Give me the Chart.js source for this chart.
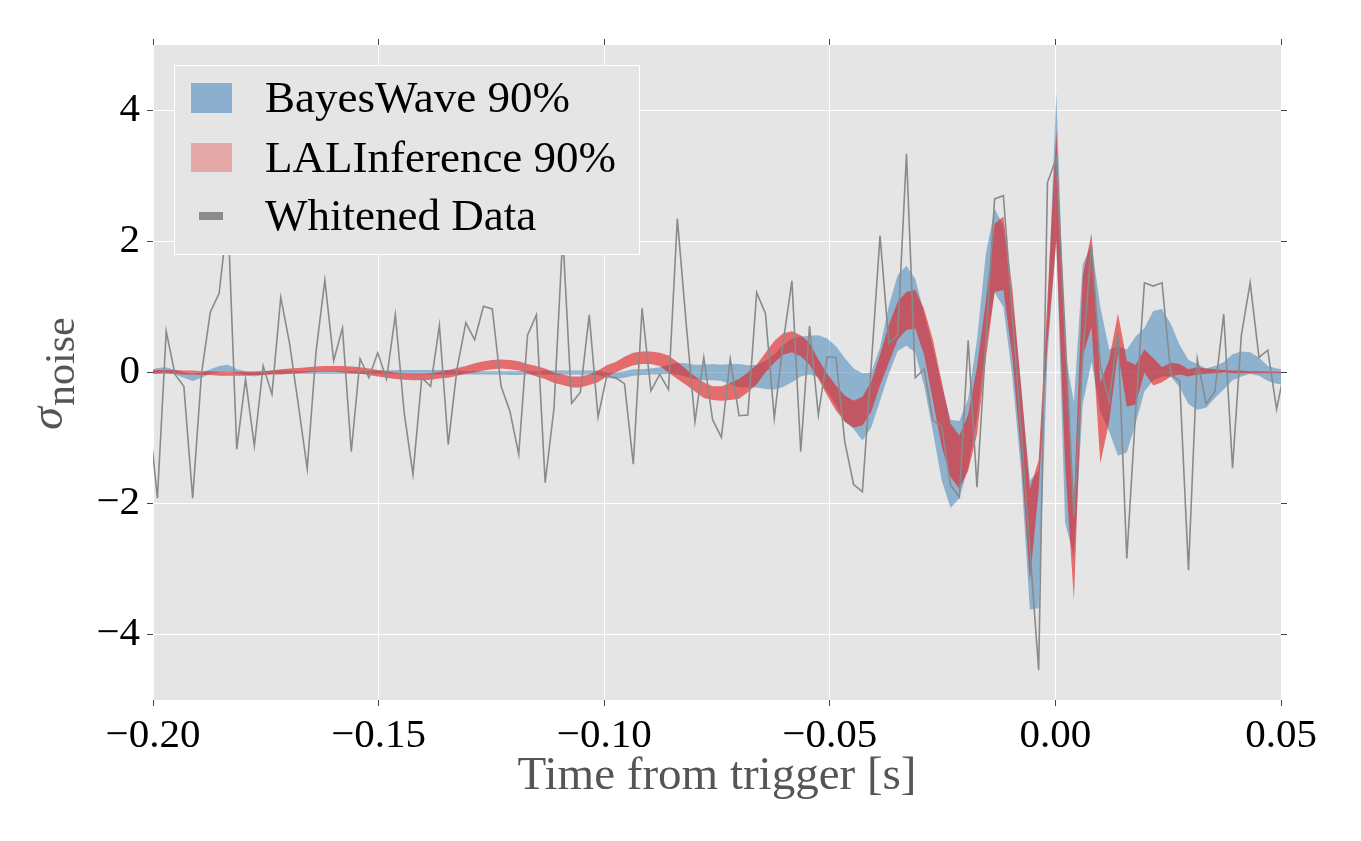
<!DOCTYPE html>
<html>
<head>
<meta charset="utf-8">
<title>Whitened data vs reconstructions</title>
<script src="https://cdn.jsdelivr.net/npm/chart.js@4.4.0/dist/chart.umd.min.js"></script>
<style>
  html, body { margin: 0; padding: 0; background: #fff; }
  #wrap { width: 1361px; height: 841px; }
</style>
</head>
<body>
<div id="wrap"><canvas id="chart" width="1361" height="841"></canvas></div>
<script>
// sample clock: 512 Hz, samples sit half a sample off the trigger time
const sampleRate = 512;
const firstSample = -0.2 - 0.5 / sampleRate;

// whitened strain, in units of noise sigma
const whitened = [
  -0.6, -1.92, 0.63, -0.03, -0.21, -1.92, -0.02, 0.92, 1.21, 2.4,
  -1.17, -0.10, -1.12, 0.10, -0.33, 1.15, 0.44, -0.50, -1.47, 0.32,
  1.41, 0.18, 0.68, -1.21, 0.21, -0.08, 0.30, -0.10, 0.88, -0.61,
  -1.56, -0.08, -0.21, 0.72, -1.10, 0.06, 0.76, 0.50, 1.01, 0.97,
  -0.21, -0.59, -1.25, 0.57, 0.88, -1.68, -0.55, 2.1, -0.47, -0.30,
  0.88, -0.68, -0.05, -0.08, -0.17, -1.40, 0.98, -0.28, -0.03, -0.26,
  2.35, 0.75, -0.75, 0.23, -0.72, -0.99, 0.21, -0.66, -0.65, 1.22,
  0.90, -0.70, 0.45, 1.40, -1.21, 0.71, -0.65, 0.24, 0.23, -1.06,
  -1.71, -1.82, 0.1, 2.09, 0.45, 0.57, 3.34, -0.08, 0.05, -0.73,
  -0.82, -1.72, -1.90, 0.49, -1.75, 0.45, 2.65, 2.70, 0.9, -0.88,
  -2.7, -4.54, 2.90, 3.27, 0.6, -2.2, 0.25, 1.95, 0.10, -0.44,
  0.60, -2.84, -0.6, 1.37, 1.32, 1.37, -0.03, -0.13, -3.02, 0.21,
  -0.48, -0.29, 0.89, -1.46, 0.57, 1.37, 0.23, 0.34, -0.56, 0.1
];

// BayesWave 90% band
const bwUpper = [
  0.03, 0.07, 0.08, 0.04, 0.0, -0.02, 0.0, 0.05, 0.10, 0.12,
  0.05, 0.02, 0.0, 0.02, 0.03, 0.03, 0.03, 0.02, 0.02, 0.02,
  0.02, 0.02, 0.02, 0.02, 0.02, 0.02, 0.03, 0.03, 0.04, 0.04,
  0.04, 0.04, 0.04, 0.04, 0.04, 0.03, 0.02, 0.02, 0.02, 0.02,
  0.02, 0.02, 0.02, 0.02, 0.02, 0.03, 0.03, 0.03, 0.03, 0.03,
  0.03, 0.03, 0.0, 0.0, 0.02, 0.05, 0.05, 0.06, 0.08, 0.12,
  0.15, 0.14, 0.12, 0.12, 0.13, 0.12, 0.13, 0.13, 0.11, 0.12,
  0.18, 0.28, 0.42, 0.52, 0.55, 0.56, 0.57, 0.52, 0.40, 0.22,
  0.06, -0.01, 0.0, 0.38, 1.02, 1.49, 1.63, 1.43, 0.91, 0.38,
  -0.2, -0.72, -0.74, -0.4, 0.5, 1.8, 2.5, 2.25, 1.15, -0.2,
  -1.65, -1.5, 0.9, 4.27, 0.3, -0.45, 1.65, 1.95, 1.0, 0.35,
  0.4, 0.35, 0.55, 0.68, 0.94, 0.97, 0.74, 0.42, 0.19, 0.13,
  0.06, 0.1, 0.16, 0.28, 0.32, 0.31, 0.23, 0.1, 0.06, 0.05
];
const bwLower = [
  -0.02, -0.01, 0.0, -0.03, -0.08, -0.13, -0.08, -0.02, 0.0, 0.01,
  -0.01, -0.04, -0.06, -0.04, -0.02, -0.02, -0.02, -0.02, -0.02, -0.02,
  -0.02, -0.02, -0.02, -0.02, -0.02, -0.02, -0.02, -0.02, -0.02, -0.02,
  -0.03, -0.03, -0.03, -0.03, -0.03, -0.03, -0.03, -0.03, -0.03, -0.03,
  -0.03, -0.04, -0.04, -0.03, -0.03, -0.03, -0.03, -0.03, -0.03, -0.03,
  -0.03, -0.04, -0.08, -0.10, -0.08, -0.05, -0.04, -0.03, -0.03, -0.02,
  -0.03, -0.06, -0.10, -0.12, -0.12, -0.13, -0.18, -0.23, -0.23, -0.23,
  -0.25, -0.26, -0.22, -0.15, -0.06, -0.03, -0.07, -0.29, -0.5, -0.75,
  -0.86, -1.04, -0.84, -0.43, -0.02, 0.33, 0.41, 0.30, -0.2, -0.9,
  -1.65, -2.07, -1.92, -1.45, -0.7, 0.4, 1.22, 1.0, -0.05, -1.5,
  -3.62, -3.6, 0.25, 2.05, -2.29, -2.81, -0.48, 0.16, -0.6, -0.9,
  -1.27, -1.22, -0.78, -0.29, -0.12, -0.06, -0.06, -0.23, -0.48, -0.57,
  -0.54, -0.39, -0.26, -0.12, -0.06, -0.02, -0.05, -0.13, -0.17, -0.19
];

// LALInference 90% band
const liUpper = [
  0.04, 0.04, 0.04, 0.04, 0.03, 0.03, 0.02, 0.02, 0.01, 0.01,
  0.01, 0.01, 0.02, 0.02, 0.03, 0.05, 0.06, 0.07, 0.08, 0.09,
  0.10, 0.10, 0.10, 0.09, 0.08, 0.06, 0.04, 0.02, 0.0, -0.01,
  -0.02, -0.02, -0.01, 0.01, 0.04, 0.07, 0.10, 0.14, 0.17, 0.19,
  0.20, 0.19, 0.17, 0.13, 0.10, 0.06, 0.0, -0.03, -0.06, -0.06,
  -0.03, 0.03, 0.11, 0.16, 0.24, 0.30, 0.32, 0.32, 0.30, 0.26,
  0.16, 0.05, -0.06, -0.15, -0.21, -0.21, -0.16, -0.10, 0.0, 0.12,
  0.30, 0.48, 0.60, 0.63, 0.57, 0.45, 0.20, -0.02, -0.20, -0.35,
  -0.43, -0.37, -0.14, 0.27, 0.73, 1.08, 1.23, 1.26, 0.97, 0.50,
  -0.14, -0.78, -0.96, -0.64, 0.08, 1.08, 2.27, 2.38, 1.30, -0.20,
  -1.78, -1.34, 1.12, 3.69, 0.42, -1.97, 1.47, 2.13, -0.15, 0.20,
  0.90, 0.18, 0.12, 0.35, 0.22, 0.08, 0.15, 0.13, 0.05, 0.08,
  0.06, 0.05, 0.04, 0.03, 0.03, 0.02, 0.02, 0.015, 0.01, 0.01
];
const liLower = [
  -0.02, -0.02, -0.02, -0.02, -0.03, -0.03, -0.04, -0.04, -0.05, -0.05,
  -0.05, -0.05, -0.04, -0.04, -0.03, -0.03, -0.02, -0.01, 0.0, 0.01,
  0.01, 0.01, 0.0, -0.01, -0.02, -0.04, -0.06, -0.08, -0.10, -0.11,
  -0.12, -0.12, -0.11, -0.09, -0.08, -0.05, -0.02, 0.0, 0.03, 0.05,
  0.06, 0.05, 0.03, -0.01, -0.06, -0.10, -0.16, -0.19, -0.23, -0.23,
  -0.19, -0.15, -0.06, 0.0, 0.06, 0.11, 0.13, 0.13, 0.10, 0.0,
  -0.10, -0.19, -0.29, -0.39, -0.42, -0.43, -0.42, -0.40, -0.30, -0.18,
  0.0, 0.15, 0.27, 0.31, 0.25, 0.12, -0.10, -0.35, -0.58, -0.75,
  -0.84, -0.81, -0.60, -0.20, 0.15, 0.50, 0.65, 0.67, 0.27, -0.43,
  -1.13, -1.59, -1.77, -1.50, -0.95, 0.20, 1.23, 1.26, 0.25, -1.25,
  -3.17, -1.80, 0.45, 2.00, -1.39, -3.48, 0.25, 0.70, -1.39, -0.75,
  0.30, -0.52, -0.49, 0.0, -0.20, -0.15, -0.06, -0.03, -0.06, -0.03,
  -0.02, -0.01, 0.0, -0.01, -0.01, -0.01, -0.01, -0.01, -0.01, -0.01
];

const xTicks = [-0.2, -0.15, -0.1, -0.05, 0, 0.05];
const yTicks = [-4, -2, 0, 2, 4];
const legendLabels = ['BayesWave 90%', 'LALInference 90%', 'Whitened Data'];

const times = whitened.map((_, i) => firstSample + i / sampleRate);
const pts = arr => arr.map((v, i) => ({ x: times[i], y: v }));

const FONT = '"Liberation Serif", "DejaVu Serif", serif';
const minus = s => s.replace('-', '\u2212');

const bgPlugin = {
  id: 'axesBg',
  beforeDraw(chart) {
    const { ctx, chartArea: a } = chart;
    ctx.save();
    ctx.fillStyle = '#E5E5E5';
    ctx.fillRect(a.left, a.top, a.right - a.left, a.bottom - a.top);
    ctx.restore();
  }
};

// y label (sigma with subscript) and the boxed legend, drawn over the data
const overlayPlugin = {
  id: 'overlay',
  afterDraw(chart) {
    const ctx = chart.ctx;
    ctx.save();
    ctx.translate(62, 374);
    ctx.rotate(-Math.PI / 2);
    ctx.fillStyle = '#555';
    ctx.textBaseline = 'alphabetic';
    ctx.font = 'italic 46px ' + FONT;
    const w1 = ctx.measureText('\u03c3').width;
    ctx.font = '42px ' + FONT;
    const w2 = ctx.measureText('noise').width;
    let x0 = -(w1 + w2) / 2;
    ctx.font = 'italic 46px ' + FONT;
    ctx.fillText('\u03c3', x0, 0);
    ctx.font = '42px ' + FONT;
    ctx.fillText('noise', x0 + w1 + 1, 12);
    ctx.restore();

    ctx.save();
    ctx.fillStyle = '#E5E5E5';
    ctx.fillRect(174, 65, 466, 190);
    ctx.strokeStyle = '#fff';
    ctx.lineWidth = 1;
    ctx.strokeRect(174.5, 65.5, 465, 189);
    ctx.fillStyle = 'rgb(140,175,208)';
    ctx.fillRect(191, 83, 41, 30);
    ctx.fillStyle = 'rgb(228,168,168)';
    ctx.fillRect(191, 143, 41, 29);
    ctx.fillStyle = 'rgb(140,140,140)';
    ctx.fillRect(199, 212, 24, 8);
    ctx.fillStyle = '#000';
    ctx.font = '45px ' + FONT;
    ctx.textBaseline = 'alphabetic';
    ctx.fillText(legendLabels[0], 265, 112);
    ctx.fillText(legendLabels[1], 265, 172);
    ctx.fillText(legendLabels[2], 265, 230);
    ctx.restore();
  }
};

const band = (data, color, fill) => ({
  data: pts(data),
  borderColor: 'rgba(0,0,0,0)',
  borderWidth: 0,
  backgroundColor: color,
  pointRadius: 0,
  tension: 0,
  fill: fill
});

const tickMarksOnly = (pos, size) => ({
  type: 'linear',
  position: pos,
  min: pos === 'top' ? -0.2 : -5,
  max: pos === 'top' ? 0.05 : 5,
  afterBuildTicks: s => { s.ticks = (pos === 'top' ? xTicks : yTicks).map(v => ({ value: v })); },
  afterFit: s => { if (pos === 'top') s.height = size; else s.width = size; },
  ticks: { display: false },
  border: { display: false },
  grid: { drawOnChartArea: false, tickColor: '#444', tickLength: 6 }
});

new Chart(document.getElementById('chart'), {
  type: 'line',
  data: {
    datasets: [
      { label: legendLabels[2], data: pts(whitened), borderColor: '#8a8a8a', borderWidth: 1.6,
        pointRadius: 0, tension: 0, fill: false },
      band(liUpper, 'rgba(228,26,28,0.6)', '+1'),
      band(liLower, 'rgba(228,26,28,0.6)', false),
      band(bwUpper, 'rgba(55,126,184,0.5)', '+1'),
      band(bwLower, 'rgba(55,126,184,0.5)', false)
    ]
  },
  options: {
    responsive: false,
    animation: false,
    layout: { padding: 0 },
    plugins: {
      legend: { display: false },
      tooltip: { enabled: false }
    },
    scales: {
      x: {
        type: 'linear',
        position: 'bottom',
        min: -0.2,
        max: 0.05,
        afterBuildTicks: s => { s.ticks = xTicks.map(v => ({ value: v })); },
        afterFit: s => { s.height = 141; },
        border: { display: false },
        grid: { color: '#ffffff', lineWidth: 1, tickColor: '#444', tickLength: 6 },
        ticks: { color: '#000', font: { family: FONT, size: 41 }, padding: 6, maxRotation: 0,
                 callback: v => minus(v.toFixed(2)) },
        title: { display: true, text: 'Time from trigger [s]', color: '#555',
                 font: { family: FONT, size: 47 }, padding: { top: 0, bottom: 36 } }
      },
      y: {
        type: 'linear',
        position: 'left',
        min: -5,
        max: 5,
        afterBuildTicks: s => { s.ticks = yTicks.map(v => ({ value: v })); },
        afterFit: s => { s.width = 153; },
        border: { display: false },
        grid: { color: '#ffffff', lineWidth: 1, tickColor: '#444', tickLength: 6 },
        ticks: { color: '#000', font: { family: FONT, size: 41 }, padding: 7,
                 callback: v => minus(String(v)) }
      },
      xTop: tickMarksOnly('top', 45),
      yRight: tickMarksOnly('right', 80)
    }
  },
  plugins: [bgPlugin, overlayPlugin]
});
</script>
</body>
</html>
